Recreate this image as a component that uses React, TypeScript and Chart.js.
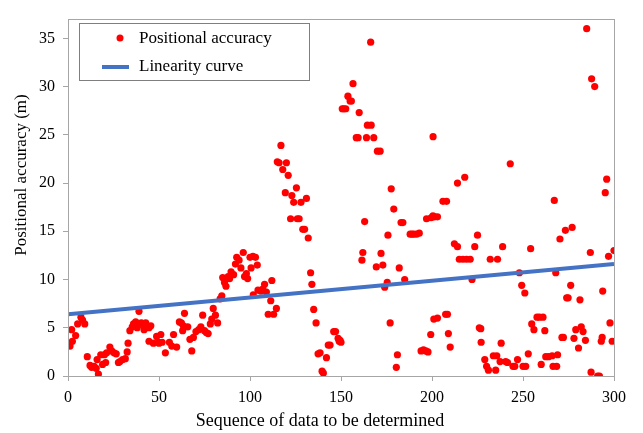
import { useEffect, useRef } from 'react';
import { Chart, registerables } from 'chart.js';

Chart.register(...registerables);

const FONT = '"Liberation Serif", "Times New Roman", serif';

// Sequence number of each measured point
const sequenceNo = [
  1.1, 2.0, 2.4, 4.2, 5.3, 7.1, 8, 9.2, 10.6, 12.1, 13, 14.3, 15.5, 16, 16.7, 18, 19, 20, 20.7, 21.2,
  23, 24, 25.3, 26.5, 27.7, 28.5, 30, 31.5, 32.5, 33, 34, 35.3, 36, 37.2, 38, 39, 40.3, 41, 41.8, 42.7,
  44.5, 44.5, 45.5, 46.9, 48.7, 49.8, 50,
  51, 51.7, 53.5, 55.7, 57, 58, 59.7, 61.2, 62.3, 63, 63.4, 64, 65.8, 67, 68, 68.9, 70.3, 71.8, 73, 74,
  75, 76, 77, 78.2, 79, 79.8, 81, 82.2, 83.6, 84.5, 85, 86, 86.8, 88, 88.8, 89.6, 91, 92, 92.7, 94,
  95, 96.3, 97, 98, 98.7, 100,
  100.6, 101.6, 101.8, 103, 104, 104.4, 106, 107, 108, 109, 110, 111.4, 112, 113, 114.5, 115, 116, 117,
  118, 119.4, 120, 121, 122.3, 123, 124, 125.5, 126, 127, 128, 129, 130, 131, 132, 133.3, 134, 135,
  136.3, 137.4, 138.5, 139.6, 140.3, 142, 143, 144, 146, 147, 148.4, 149, 149.5, 150,
  150.7, 151.5, 152.6, 153.8, 155, 155.7, 156.6, 158.4, 159.4, 160, 161.5, 162, 163, 164, 164.5, 166.3,
  166.6, 168, 169.4, 170, 171.5, 172, 173, 174, 175.4, 175.8, 177, 177.6, 179, 180.4, 181, 182, 183,
  184, 185, 188, 189, 190, 191.5, 193, 194, 195.3, 196.6, 197, 197.8, 199.3, 199.5, 200.5, 200.6,
  201, 201.5, 203, 203, 206, 208, 207.5, 208.5, 209, 210, 212.3, 214, 214, 215, 217, 218, 219, 221,
  222, 223.5, 225, 226, 226.8, 227, 229, 230, 231, 232, 233.7, 235, 235.6, 236, 237.4, 238, 238.8,
  240.5, 241.5, 243, 244.5, 245.5, 247, 248, 249.3, 250,
  251, 251.5, 252.9, 254.2, 254.8, 256, 257.7, 259, 260, 261, 262, 262.5, 264, 266, 266.5, 267.2, 268,
  268.5, 269, 270.3, 271.4, 272.2, 273.3, 274, 274.8, 276.2, 277, 278, 279, 280.5, 281.3, 282, 283,
  284.3, 285, 287, 287.4, 287.7, 289.4, 291, 292, 293, 293.5, 293.8, 295.2, 296, 297, 297.8, 299, 300,
];

// Positional accuracy (m) for each sequence number
const positionalAccuracy = [
  3.1, 4.8, 3.6, 4.2, 5.4, 6.1, 5.8, 5.4, 2.0, 1.1, 0.9, 1.0, 0.8, 1.7, 0.2, 2.2, 1.2, 2.2, 1.4, 2.4,
  3.0, 2.6, 2.4, 2.3, 1.4, 1.5, 1.7, 1.8, 2.5, 3.4, 4.7, 5.1, 5.4, 5.6, 5.0, 6.7, 5.5, 5.3, 4.8, 5.5,
  5.0, 3.6, 5.2, 3.4, 4.1, 3.5, 3.4,
  4.3, 3.5, 2.4, 3.5, 3.1, 4.3, 3.0, 5.6, 5.5, 4.7, 5.2, 6.5, 5.1, 3.8, 2.6, 4.0, 4.6, 4.8, 5.1, 6.3,
  4.7, 4.5, 4.4, 5.4, 5.9, 7.0, 6.3, 5.5, 8.0, 8.3, 10.2, 9.7, 9.3, 10.3, 10.1, 10.8, 10.5, 11.6, 12.3, 12.0,
  11.2, 12.8, 10.3, 10.6, 10.1, 12.3,
  11.2, 12.4, 8.4, 12.3, 11.5, 8.9, 8.8, 9.0, 9.5, 8.7, 6.4, 7.8, 9.9, 6.4, 7.0, 22.2, 22.1, 23.9,
  21.4, 19.0, 22.1, 20.8, 16.3, 18.7, 18.0, 19.5, 16.3, 16.3, 18.0, 15.2, 15.2, 18.4, 14.3, 10.7, 9.5, 6.9,
  5.5, 2.3, 2.4, 0.5, 0.3, 1.9, 3.2, 3.2, 4.6, 4.6, 3.9, 3.6, 3.7, 3.5,
  27.7, 27.7, 27.7, 29.0, 28.5, 28.5, 30.3, 24.7, 24.7, 27.3, 12.0, 12.8, 16.0, 24.7, 26.0, 34.6,
  26.0, 24.7, 11.3, 23.3, 23.3, 12.7, 11.5, 9.2, 9.7, 14.6, 5.5, 19.4, 17.3, 0.9, 2.2, 11.2, 15.9,
  15.9, 10.0, 14.7, 14.7, 14.7, 14.7, 14.8, 2.6, 2.7, 2.6, 16.3, 2.5, 4.3, 16.4, 16.6, 24.8,
  5.9, 16.5, 16.5, 6.0, 18.1, 18.1, 6.4, 6.4, 4.4, 3.0, 13.7, 13.4, 20.0, 12.1, 12.1, 20.6, 12.1, 12.1,
  10.0, 13.4, 14.6, 5.0, 4.9, 3.5, 1.7, 1.0, 0.6, 12.1, 2.1, 0.6, 2.1, 12.1, 1.5, 3.4, 13.4,
  1.5, 1.4, 22.0, 1.0, 1.0, 1.7, 10.7, 9.4, 1.0,
  8.6, 1.0, 2.3, 13.2, 5.4, 4.8, 6.1, 6.1, 1.2, 6.1, 4.7, 2.0, 2.0, 2.1, 1.0, 18.2, 10.7,
  1.0, 2.2, 14.2, 4.0, 4.0, 15.1, 8.1, 8.1, 9.4, 15.4, 3.9, 4.8, 2.9, 7.9, 5.1, 4.6,
  3.7, 36.0, 12.8, 0.4, 30.8, 30.0, 0.0, 0.0, 3.6, 4.0, 8.8, 19.0, 20.4, 12.4, 5.5, 3.6, 13.0,
];

// Linear trend end points
const fitX = [0, 300];
const fitY = [6.4, 11.6];

const legendLabels = ['Positional accuracy', 'Linearity curve'];
const xTitle = 'Sequence of data to be determined';
const yTitle = 'Positional accuracy (m)';

const POINT_COLOR = '#ff0000';
const LINE_COLOR = '#4472c4';

const overlayPlugin = {
  id: 'overlay',
  afterDraw(chart: any) {
    const { ctx, chartArea } = chart;
    const { left, top, right, bottom } = chartArea;
    ctx.save();

    // plot-area frame
    ctx.strokeStyle = '#a6a6a6';
    ctx.lineWidth = 1;
    ctx.strokeRect(Math.round(left) + 0.5, Math.round(top) + 0.5, Math.round(right - left), Math.round(bottom - top));

    // axis titles
    ctx.fillStyle = '#000';
    ctx.textAlign = 'center';
    ctx.textBaseline = 'middle';
    ctx.font = `18px ${FONT}`;
    ctx.fillText(xTitle, 320, 421);
    ctx.save();
    ctx.translate(22, 175);
    ctx.rotate(-Math.PI / 2);
    ctx.font = `17px ${FONT}`;
    ctx.fillText(yTitle, 0, 0);
    ctx.restore();

    // legend
    const bx = 79.5, by = 23.5, bw = 230, bh = 57;
    ctx.fillStyle = '#fff';
    ctx.fillRect(bx, by, bw, bh);
    ctx.strokeStyle = '#7f7f7f';
    ctx.strokeRect(bx, by, bw, bh);

    ctx.fillStyle = POINT_COLOR;
    ctx.beginPath();
    ctx.arc(120, 38, 3.5, 0, Math.PI * 2);
    ctx.fill();

    ctx.strokeStyle = LINE_COLOR;
    ctx.lineWidth = 4;
    ctx.beginPath();
    ctx.moveTo(102, 67);
    ctx.lineTo(129, 67);
    ctx.stroke();

    ctx.fillStyle = '#000';
    ctx.textAlign = 'left';
    ctx.font = `17px ${FONT}`;
    ctx.fillText(legendLabels[0], 139, 39);
    ctx.fillText(legendLabels[1], 139, 67);
    ctx.restore();
  },
};

export default function App() {
  const canvasRef = useRef<HTMLCanvasElement | null>(null);

  useEffect(() => {
    const canvas = canvasRef.current;
    if (!canvas) return;

    const points = sequenceNo.map((x, i) => ({ x, y: positionalAccuracy[i] }));
    const trend = fitX.map((x, i) => ({ x, y: fitY[i] }));

    const chart = new Chart(canvas, {
      type: 'scatter',
      data: {
        datasets: [
          {
            type: 'line',
            label: legendLabels[1],
            data: trend,
            borderColor: LINE_COLOR,
            borderWidth: 4,
            pointRadius: 0,
            showLine: true,
            fill: false,
            order: 0,
          } as any,
          {
            label: legendLabels[0],
            data: points,
            backgroundColor: POINT_COLOR,
            borderColor: POINT_COLOR,
            borderWidth: 0,
            pointRadius: 3.6,
            order: 1,
          },
        ],
      },
      options: {
        animation: false,
        responsive: false,
        devicePixelRatio: 1,
        layout: { padding: { top: 19, right: 29, left: 0, bottom: 0 } },
        plugins: {
          legend: { display: false },
          tooltip: { enabled: false },
        },
        scales: {
          x: {
            type: 'linear',
            min: 0,
            max: 300,
            border: { display: false },
            grid: { drawOnChartArea: false, tickLength: 5, color: '#a6a6a6' },
            ticks: {
              stepSize: 50,
              color: '#000',
              font: { family: FONT, size: 16 },
              padding: 7,
              maxRotation: 0,
            },
            afterFit(scale: any) {
              scale.height = 57;
            },
          },
          y: {
            type: 'linear',
            min: 0,
            max: 37,
            border: { display: false },
            grid: { drawOnChartArea: false, tickLength: 5, color: '#a6a6a6' },
            ticks: {
              stepSize: 5,
              color: '#000',
              font: { family: FONT, size: 16 },
              padding: 8,
            },
            afterBuildTicks(scale: any) {
              scale.ticks = scale.ticks.filter((t: any) => t.value % 5 === 0);
            },
            afterFit(scale: any) {
              scale.width = 68;
            },
          },
        },
      },
      plugins: [overlayPlugin],
    });

    return () => chart.destroy();
  }, []);

  return (
    <div style={{ position: 'fixed', left: 0, top: 0, width: 643, height: 433, background: '#fff' }}>
      <canvas ref={canvasRef} width={643} height={433} />
    </div>
  );
}
